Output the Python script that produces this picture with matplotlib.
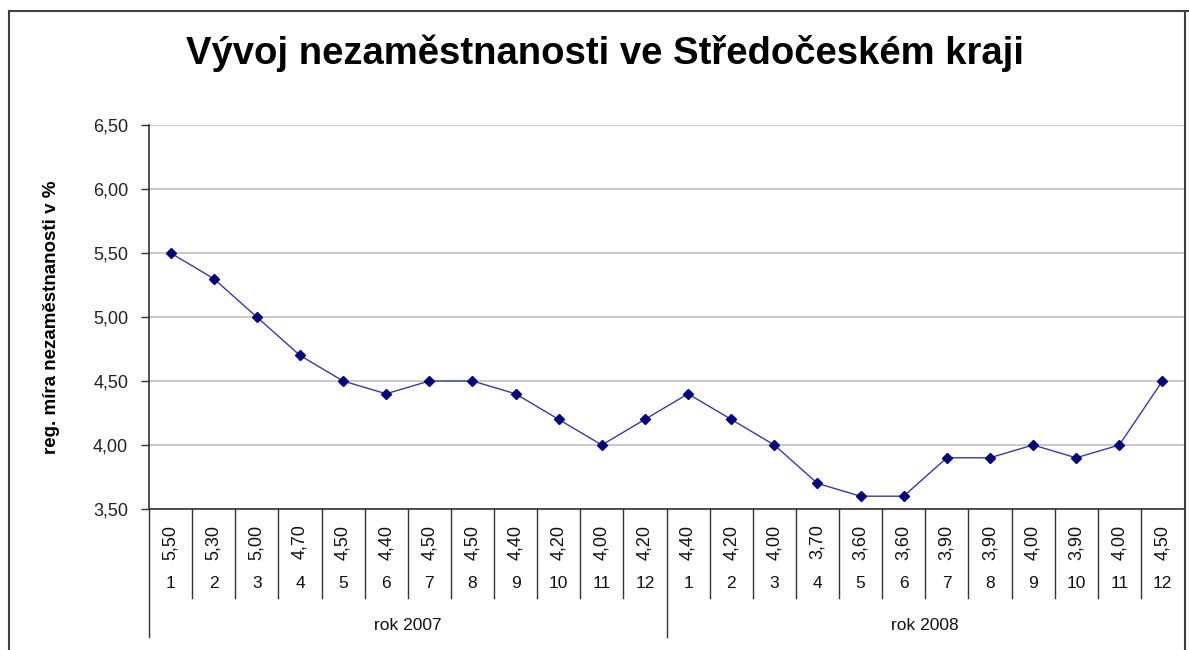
import matplotlib
matplotlib.use("Agg")
import matplotlib.pyplot as plt
from matplotlib.lines import Line2D
from matplotlib.transforms import blended_transform_factory

plt.rcParams['font.family'] = ['Liberation Sans', 'DejaVu Sans']

title = "Vývoj nezaměstnanosti ve Středočeském kraji"
ylabel = "reg. míra nezaměstnanosti v %"

months = [str(m) for m in range(1, 13)] * 2
years = ["rok 2007", "rok 2008"]
rate = [5.50, 5.30, 5.00, 4.70, 4.50, 4.40, 4.50, 4.50, 4.40, 4.20, 4.00, 4.20,
        4.40, 4.20, 4.00, 3.70, 3.60, 3.60, 3.90, 3.90, 4.00, 3.90, 4.00, 4.50]
yticks = [3.5, 4.0, 4.5, 5.0, 5.5, 6.0, 6.5]


def comma(v):
    return f"{v:.2f}".replace('.', ',')


W, H = 1189, 650
fig = plt.figure(figsize=(W / 100, H / 100), dpi=100)

# plot area in pixels
x0, x1, ytop, ybot = 149, 1184, 125, 509
ax = fig.add_axes([x0 / W, 1 - ybot / H, (x1 - x0) / W, (ybot - ytop) / H])

n = len(rate)
x = list(range(n))
ax.plot(x, rate, color='#3a3aa0', lw=1.0, marker='D', markersize=5.5,
        markerfacecolor='#000080', markeredgecolor='#000080', zorder=3)

ax.set_xlim(-0.5, n - 0.5)
ax.set_ylim(yticks[0], yticks[-1])
ax.set_yticks(yticks)
ax.set_yticklabels([comma(v) for v in yticks], fontsize=13, color='#222222')
ax.tick_params(axis='y', direction='out', length=6, width=1, color='#333333', pad=9)
ax.set_xticks([])
ax.yaxis.grid(True, color='#c4c4c4', lw=1.3)
ax.set_axisbelow(True)
for side in ('top', 'right'):
    ax.spines[side].set_visible(False)
for side in ('left', 'bottom'):
    ax.spines[side].set_color('#333333')
    ax.spines[side].set_linewidth(1.2)

ax.set_ylabel(ylabel, fontsize=13.5, fontweight='bold', labelpad=24)

# data table under the axis
tr = blended_transform_factory(ax.transData, ax.transAxes)
h = ybot - ytop


def ay(py):
    return (ybot - py) / h


for i in range(n):
    ax.text(i, ay(542), comma(rate[i]), rotation=90, ha='center', va='center',
            fontsize=13, transform=tr, color='#111111')
    ax.text(i, ay(584), months[i], ha='center', va='center',
            fontsize=12.5, transform=tr, color='#111111')
for i in range(1, n):
    if i % 12 == 0:
        continue
    ax.plot([i - 0.5, i - 0.5], [0, ay(598)], color='#333333', lw=1,
            transform=tr, clip_on=False)
for k, lab in enumerate(years):
    ax.text(k * 12 + 5.5, ay(626), lab, ha='center', va='center',
            fontsize=12.5, transform=tr, color='#111111')
for b in (-0.5, 11.5):
    ax.plot([b, b], [0, ay(637)], color='#333333', lw=1,
            transform=tr, clip_on=False)

fig.text(605 / W, 1 - 53 / H, title, ha='center', va='center',
         fontsize=27.5, fontweight='bold')

# outer frame
for xs, ys in (([9, 9], [650, 11]), ([9, 1189], [11, 11]), ([1185, 1185], [11, 650])):
    fig.add_artist(Line2D([v / W for v in xs], [1 - v / H for v in ys],
                          color='#404040', lw=1.5))

fig.savefig('out.png', dpi=100)
